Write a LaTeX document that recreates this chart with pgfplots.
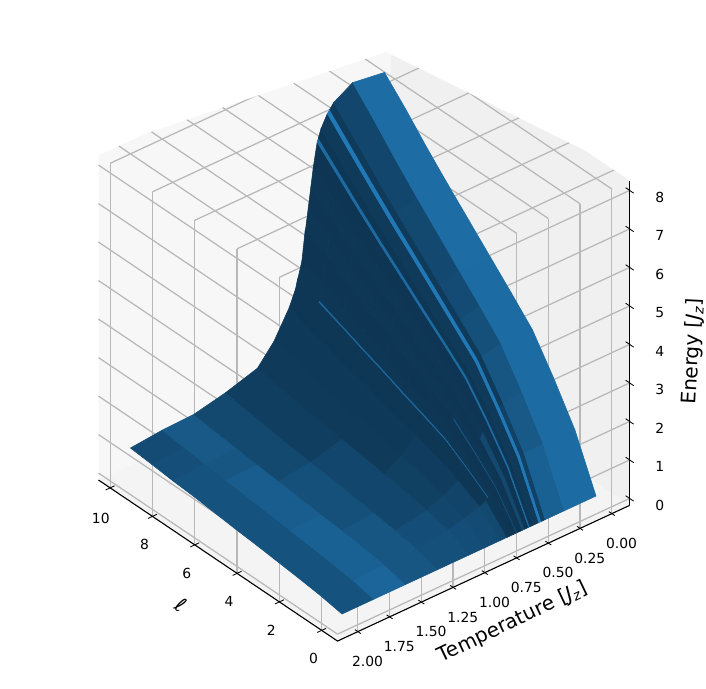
\documentclass[border=0pt]{standalone}
\usepackage{fontspec}
\setmainfont{DejaVu Sans}
\usepackage{pgfplots}
\usepackage{pgfplotstable}
\pgfplotsset{compat=1.18}
\definecolor{gridgray}{RGB}{184,184,184}

% T, ell, energy, m (m = shade of the facet that starts at this vertex)
\pgfplotstableread{
T l E m
0 10 7.30 .82
0 9 6.72 .82
0 8 6.09 .82
0 7 5.50 .82
0 6 4.93 .82
0 5 4.36 .80
0 4 3.79 .80
0 3 3.20 .80
0 2 2.32 .80
0 1 1.35 .80
0 0 0 .80

.25 10 7.42 .27
.25 9 6.82 .27
.25 8 6.18 .28
.25 7 5.58 .30
.25 6 5.00 .32
.25 5 4.42 .35
.25 4 3.85 .42
.25 3 3.25 .50
.25 2 2.35 .55
.25 1 1.38 .65
.25 0 0 .65

.40 10 7.13 .10
.40 9 6.55 .10
.40 8 5.95 .10
.40 7 5.37 .10
.40 6 4.82 .10
.40 5 4.27 .10
.40 4 3.72 .10
.40 3 3.15 .10
.40 2 2.30 .20
.40 1 1.36 .20
.40 0 0 .10

.43 10 7.00 1
.43 9 6.42 1
.43 8 5.84 1
.43 7 5.28 1
.43 6 4.74 1
.43 5 4.20 1
.43 4 3.65 1
.43 3 3.10 1
.43 2 2.26 1
.43 1 1.34 1
.43 0 0 1

.45 10 6.92 .10
.45 9 6.34 .10
.45 8 5.77 .10
.45 7 5.21 .10
.45 6 4.68 .10
.45 5 4.14 .10
.45 4 3.60 .10
.45 3 3.06 .10
.45 2 2.23 .10
.45 1 1.32 .10
.45 0 0 .10

.50 10 6.60 .05
.50 9 6.05 .05
.50 8 5.50 .05
.50 7 4.96 .05
.50 6 4.45 .05
.50 5 3.93 .05
.50 4 3.42 .05
.50 3 2.90 .05
.50 2 2.12 .05
.50 1 1.25 .05
.50 0 0 .05

.52 10 6.40 .80
.52 9 5.86 .80
.52 8 5.32 .80
.52 7 4.80 .80
.52 6 4.30 .80
.52 5 3.80 .80
.52 4 3.31 .80
.52 3 2.80 .80
.52 2 2.05 .80
.52 1 1.20 .80
.52 0 0 .80

.53 10 6.30 .03
.53 9 5.77 .03
.53 8 5.24 .03
.53 7 4.73 .03
.53 6 4.24 .03
.53 5 3.74 .03
.53 4 3.26 .03
.53 3 2.76 .03
.53 2 2.02 .03
.53 1 1.18 .03
.53 0 0 .03

.56 10 5.70 .06
.56 9 5.24 .06
.56 8 4.75 .06
.56 7 4.29 .06
.56 6 3.85 .06
.56 5 3.40 .06
.56 4 2.96 .06
.56 3 2.50 .06
.56 2 1.81 .30
.56 1 1.05 .30
.56 0 0 .06

.58 10 5.20 .03
.58 9 4.78 .03
.58 8 4.34 .03
.58 7 3.92 .03
.58 6 3.51 .03
.58 5 3.10 .03
.58 4 2.70 .03
.58 3 2.28 .03
.58 2 1.66 .03
.58 1 .97 .03
.58 0 0 .03

.60 10 4.70 .06
.60 9 4.33 .06
.60 8 3.94 .06
.60 7 3.56 .06
.60 6 3.20 .06
.60 5 2.83 .06
.60 4 2.46 .06
.60 3 2.08 .06
.60 2 1.52 .06
.60 1 .90 .06
.60 0 0 .06

.62 10 4.20 .03
.62 9 3.89 .03
.62 8 3.54 .03
.62 7 3.20 .03
.62 6 2.88 .03
.62 5 2.55 .03
.62 4 2.22 .03
.62 3 1.88 .45
.62 2 1.38 .45
.62 1 .83 .45
.62 0 0 .03

.625 10 4.14 .03
.625 9 3.83 .03
.625 8 3.49 .03
.625 7 3.15 .03
.625 6 2.84 .03
.625 5 2.51 .03
.625 4 2.19 .03
.625 3 1.85 .03
.625 2 1.36 .03
.625 1 .82 .03
.625 0 0 .03

.65 10 3.40 .05
.65 9 3.18 .05
.65 8 2.93 .05
.65 7 2.66 .05
.65 6 2.40 .05
.65 5 2.13 .05
.65 4 1.87 .05
.65 3 1.60 .05
.65 2 1.18 .05
.65 1 .73 .05
.65 0 0 .05

.68 10 3.01 .05
.68 9 2.80 .75
.68 8 2.57 .75
.68 7 2.34 .75
.68 6 2.12 .75
.68 5 1.88 .75
.68 4 1.66 .75
.68 3 1.42 .75
.68 2 1.05 .75
.68 1 .65 .05
.68 0 0 .05

.685 10 2.97 .05
.685 9 2.76 .05
.685 8 2.54 .05
.685 7 2.31 .05
.685 6 2.09 .05
.685 5 1.85 .05
.685 4 1.63 .05
.685 3 1.40 .05
.685 2 1.04 .05
.685 1 .64 .05
.685 0 0 .05

.70 10 2.75 .05
.70 9 2.55 .05
.70 8 2.33 .05
.70 7 2.13 .05
.70 6 1.93 .05
.70 5 1.72 .05
.70 4 1.52 .05
.70 3 1.30 .05
.70 2 .97 .05
.70 1 .60 .30
.70 0 0 .05

.75 10 2.34 .08
.75 9 2.15 .08
.75 8 1.95 .08
.75 7 1.77 .08
.75 6 1.60 .08
.75 5 1.43 .08
.75 4 1.26 .15
.75 3 1.08 .15
.75 2 .82 .25
.75 1 .52 .35
.75 0 0 .35

.87 10 1.65 .10
.87 9 1.52 .10
.87 8 1.39 .10
.87 7 1.27 .10
.87 6 1.15 .10
.87 5 1.03 .10
.87 4 .92 .18
.87 3 .80 .18
.87 2 .62 .28
.87 1 .40 .38
.87 0 0 .38

1 10 1.15 .16
1 9 1.06 .16
1 8 .97 .16
1 7 .88 .16
1 6 .80 .28
1 5 .72 .28
1 4 .64 .28
1 3 .56 .28
1 2 .44 .38
1 1 .30 .42
1 0 0 .42

1.25 10 .90 .30
1.25 9 .82 .30
1.25 8 .74 .30
1.25 7 .66 .30
1.25 6 .59 .42
1.25 5 .52 .42
1.25 4 .45 .42
1.25 3 .38 .50
1.25 2 .30 .50
1.25 1 .20 .50
1.25 0 0 .50

1.5 10 .72 .55
1.5 9 .65 .55
1.5 8 .59 .50
1.5 7 .53 .60
1.5 6 .47 .60
1.5 5 .41 .60
1.5 4 .35 .65
1.5 3 .30 .65
1.5 2 .23 .65
1.5 1 .15 .72
1.5 0 0 .72

1.75 10 .69 .35
1.75 9 .63 .40
1.75 8 .57 .45
1.75 7 .51 .45
1.75 6 .45 .45
1.75 5 .39 .45
1.75 4 .33 .45
1.75 3 .27 .45
1.75 2 .20 .45
1.75 1 .13 .45
1.75 0 0 .45

2 10 .61 .45
2 9 .56 .45
2 8 .50 .45
2 7 .46 .45
2 6 .40 .45
2 5 .34 .45
2 4 .29 .45
2 3 .23 .45
2 2 .17 .45
2 1 .10 .45
2 0 0 .45
}\surfdata

\begin{document}
\begin{tikzpicture}
\path[use as bounding box] (0,0) rectangle (508.32pt,495.36pt);
\begin{scope}[x=0.72pt,y=-0.72pt,yshift=495.36pt]
  \clip (0,688) -- (0,150) -- (98,150) -- (386,52) -- (640,178) -- (706,178) -- (706,688) -- cycle;
  \fill[black!3] (98.6,480) -- (390.7,344.3) -- (390.7,19.7) -- (98.6,155.4) -- cycle;
  \fill[black!6] (629.7,505.3) -- (390.7,344.3) -- (390.7,19.7) -- (629.7,180.7) -- cycle;
  \fill[black!4.5] (337.6,641) -- (98.6,480) -- (390.7,344.3) -- (629.7,505.3) -- cycle;
\end{scope}
\begin{scope}
\clip[x=0.72pt,y=-0.72pt,yshift=495.36pt] (0,688) -- (0,150) -- (98,150) -- (386,52) -- (640,178) -- (706,178) -- (706,688) -- cycle;
\begin{axis}[
  anchor=origin, at={(429.12pt,138.24pt)},
  x={(-91.44pt,-42.48pt)}, y={(-15.23pt,10.26pt)}, z={(0pt,27.72pt)},
  xmin=-0.14, xmax=2.16, ymin=-0.75, ymax=10.55, zmin=-0.18, zmax=8.25,
  clip=false,
  font=\fontsize{10}{12}\selectfont,
  xtick={0,0.25,0.5,0.75,1,1.25,1.5,1.75,2},
  xticklabels={0.00,0.25,0.50,0.75,1.00,1.25,1.50,1.75,2.00},
  ytick={0,2,4,6,8,10}, yticklabels={0,2,4,6,8,10},
  ztick={0,1,2,3,4,5,6,7,8}, zticklabels={0,1,2,3,4,5,6,7,8},
  xticklabel pos=left, yticklabel pos=left, zticklabel pos=right,
  xticklabel style={xshift=1pt,yshift=-10pt},
  yticklabel style={xshift=-0.5pt,yshift=-12pt},
  zticklabel style={xshift=15pt,yshift=-4.5pt},
  grid=major, grid style={gridgray,line width=0.9pt},
  axis line style={draw=none},
  major tick length=0pt, tick style={draw=none},
  xlabel={Temperature [\textit{J}\textsubscript{\textit{z}}]},
  ylabel={ℓ},
  zlabel={Energy [\textit{J}\textsubscript{\textit{z}}]},
  label style={font=\fontsize{14.4}{16}\selectfont},
  xlabel style={at={(axis cs:1.211,-3.35,-0.18)},anchor=center,rotate=25.5},
  ylabel style={at={(axis cs:2.64,3.77,-0.18)},anchor=center,rotate=-35},
  zlabel style={at={(axis cs:-0.639,-0.75,3.06)},anchor=center,rotate=-3},
  colormap={surfblue}{rgb255=(13,51,80) rgb255=(32,120,182)},
  point meta min=0, point meta max=1,
]
  \addplot3[surf, shader=flat corner, z buffer=default, mesh/ordering=y varies, mesh/rows=11, mesh/cols=24,
    point meta=explicit]
    table[x=T,y=l,z=E,meta=m] {\surfdata};
  \draw[black,line width=0.8pt] (axis cs:-0.14,-0.75,-0.18) -- (axis cs:2.16,-0.75,-0.18) -- (axis cs:2.16,10.55,-0.18);
  \draw[black,line width=0.8pt] (axis cs:-0.14,-0.75,-0.18) -- (axis cs:-0.14,-0.75,8.25);
  % ticks stick out along the neighbouring axis, as in mplot3d
  \pgfplotsinvokeforeach{0,0.25,0.5,0.75,1,1.25,1.5,1.75,2}{
    \draw[black,line width=0.6pt] (axis cs:#1,-0.89,-0.18) -- (axis cs:#1,-0.61,-0.18);}
  \pgfplotsinvokeforeach{0,2,4,6,8,10}{
    \draw[black,line width=0.6pt] (axis cs:2.125,#1,-0.18) -- (axis cs:2.195,#1,-0.18);}
  \pgfplotsinvokeforeach{0,1,2,3,4,5,6,7,8}{
    \draw[black,line width=0.6pt] (axis cs:-0.14,-0.94,#1) -- (axis cs:-0.14,-0.56,#1);}
\end{axis}
\end{scope}
\end{tikzpicture}
\end{document}
